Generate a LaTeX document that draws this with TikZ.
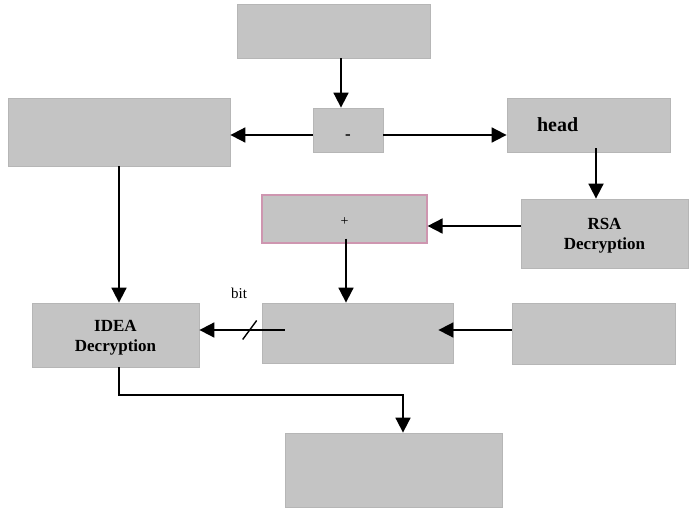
\documentclass[tikz,border=0pt]{standalone}
\usepackage{fontspec}
\setmainfont{Liberation Serif}
\usetikzlibrary{arrows.meta}
\definecolor{boxgray}{RGB}{196,196,196}
\definecolor{edgegray}{RGB}{182,182,182}
\definecolor{edgepink}{RGB}{206,150,176}

\begin{document}
\begin{tikzpicture}[x=1pt, y=-1pt,
    block/.style={draw=edgegray, fill=boxgray, line width=0.8pt, inner sep=0pt,
      font=\fontsize{17}{20}\selectfont\bfseries, align=center},
    arr/.style={-{Triangle[length=15pt,width=15pt]}, line width=1.8pt}]
    \useasboundingbox (0,0) rectangle (690,511);

    \node (Top)   [block, minimum width=193pt, minimum height=54pt] at (333.5,31) {};
    \node (Minus) [block, minimum width=70pt, minimum height=44pt, font=\fontsize{17}{18}\selectfont\bfseries] at (348,130) {\raisebox{-9pt}[0pt][0pt]{-}};
    \node (Left)  [block, minimum width=222pt, minimum height=68pt] at (119,132) {};
    \node (Head)  [block, text width=103pt, inner xsep=30pt, minimum height=54pt, align=left,
      font=\fontsize{20}{22}\selectfont\bfseries] at (588.5,125) {head};
    \node (RSA)   [block, minimum width=167pt, minimum height=69pt] at (604.5,233.5) {\rule{0pt}{15pt}RSA\\Decryption};
    \node (Plus)  [block, draw=edgepink, line width=1.2pt, minimum width=165pt, minimum height=48pt,
      font=\fontsize{14}{16}\selectfont] at (344.5,219) {\raisebox{-6.5pt}[0pt][0pt]{+}};
    \node (IDEA)  [block, minimum width=167pt, minimum height=64pt] at (115.5,335) {\rule{0pt}{17pt}IDEA\\Decryption};
    \node (Mid)   [block, minimum width=191pt, minimum height=60pt] at (357.5,333) {};
    \node (Right) [block, minimum width=163pt, minimum height=61pt] at (593.5,333.5) {};
    \node (Out)   [block, minimum width=217pt, minimum height=74pt] at (393.5,470) {};
    \node (Bit) at (239,293) {\fontsize{15}{17}\selectfont bit};

    \draw[arr] (Top.south -| 341,0) -- (Minus.north -| 341,0);
    \draw[arr] (Minus.west |- 0,135) -- (Left.east |- 0,135);
    \draw[arr] (Minus.east |- 0,135) -- (Head.west |- 0,135);
    \draw[arr] ([yshift=4pt]Head.south -| 596,0) -- (RSA.north -| 596,0);
    \draw[arr] (RSA.west |- 0,226) -- (Plus.east |- 0,226);
    \draw[arr] ([yshift=5pt]Plus.south -| 346,0) -- (Mid.north -| 346,0);
    \draw[arr] (Left.south) -- (Left.south |- IDEA.north);
    \draw[arr] ([xshift=23pt]Mid.west |- 0,330) -- coordinate[pos=0.41] (Cut) (IDEA.east |- 0,330);
    \draw[line width=1.4pt] ([shift={(-7pt,-9.5pt)}]Cut) -- ([shift={(7pt,9.5pt)}]Cut);
    \draw[arr] (Right.west |- 0,330) -- ([xshift=-15pt]Mid.east |- 0,330);
    \draw[arr] (IDEA.south -| Left.south) |- ([xshift=9.5pt]Out.north |- 0,395) -- ([xshift=9.5pt]Out.north);
\end{tikzpicture}
\end{document}
